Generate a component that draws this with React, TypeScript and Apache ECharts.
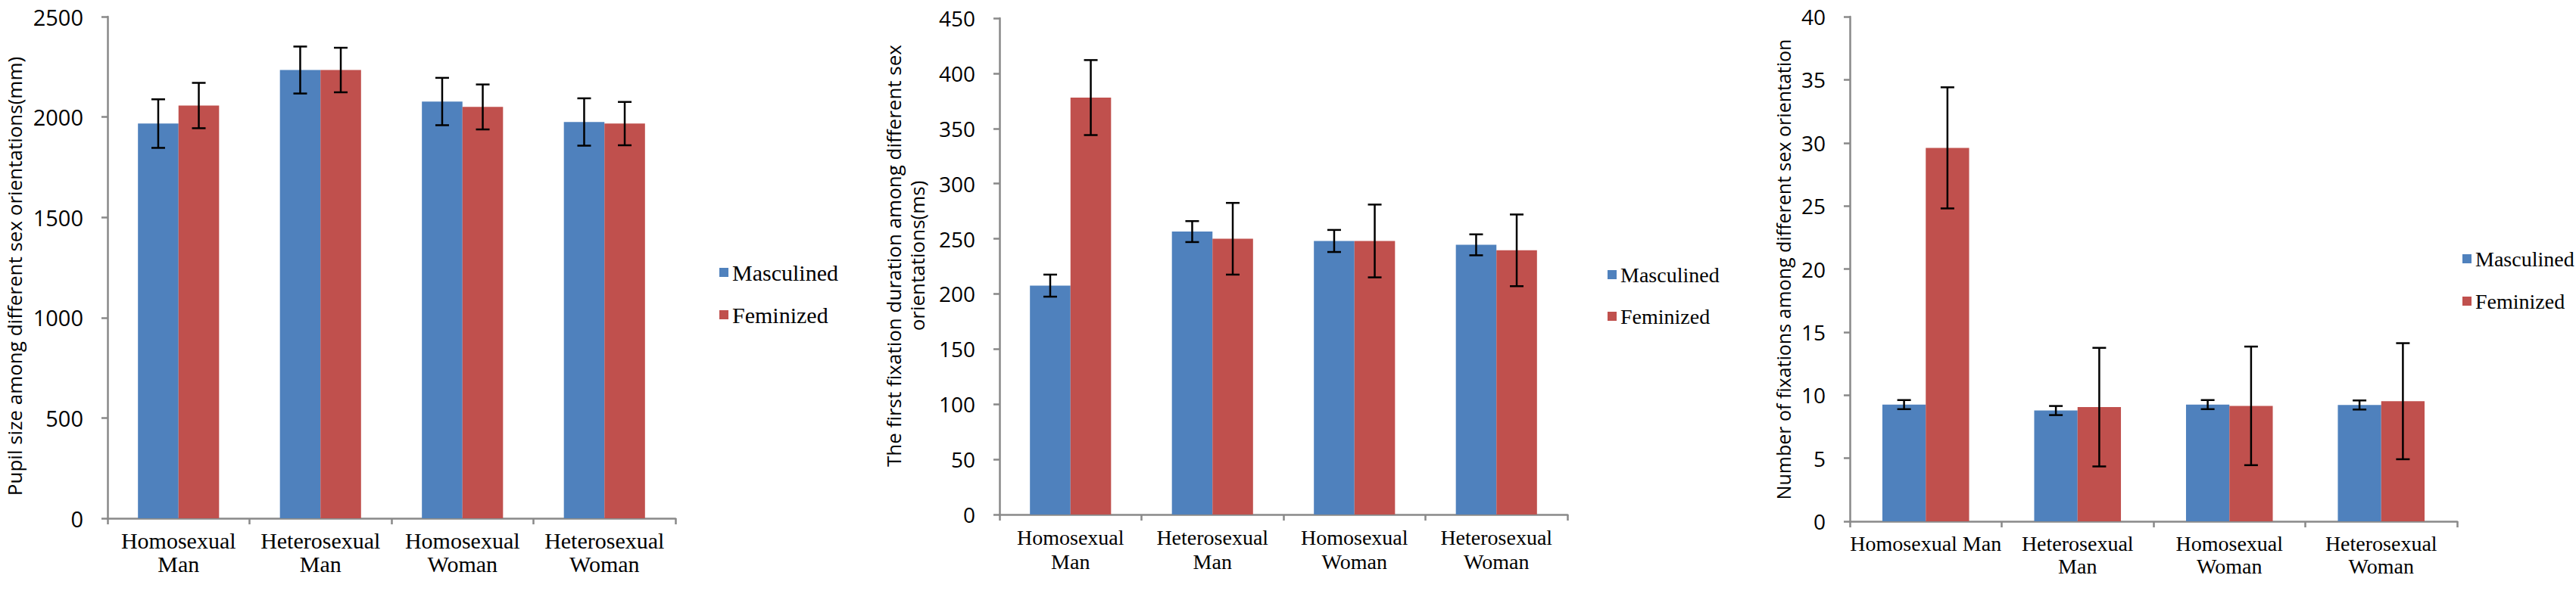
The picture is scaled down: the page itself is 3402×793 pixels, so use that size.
import React, { useEffect, useRef } from "react";
import * as echarts from "echarts";

const catsA = ["Homosexual\nMan", "Heterosexual\nMan", "Homosexual\nWoman", "Heterosexual\nWoman"];
const catsC = ["Homosexual Man", "Heterosexual\nMan", "Homosexual\nWoman", "Heterosexual\nWoman"];
const seriesNames = ["Masculined", "Feminized"];

const pupilMasc = [1967, 2234, 2077, 1975];
const pupilMascErr = [121, 117, 118, 118];
const pupilFem = [2057, 2234, 2050, 1967];
const pupilFemErr = [113, 111, 112, 108];

const durMasc = [207.5, 256.5, 248, 244.5];
const durMascErr = [10, 9.5, 10, 9.5];
const durFem = [378, 250, 248, 239.5];
const durFemErr = [34, 32.5, 33, 32.5];

const fixMasc = [9.25, 8.78, 9.25, 9.22];
const fixMascErr = [0.36, 0.36, 0.36, 0.36];
const fixFem = [29.6, 9.05, 9.15, 9.52];
const fixFemErr = [4.8, 4.7, 4.7, 4.6];

const yTitles = [
  "Pupil size among different sex orientations(mm)",
  "The first fixation duration among different sex\norientations(ms)",
  "Number of fixations among different sex orientation",
];
const yMax = [2500, 450, 40];
const yStep = [500, 50, 5];

const BLUE = "#4F81BD";
const RED = "#C0504D";
const AXIS = "#898989";
const GAP = 0.4286;

function errRender(sign: number) {
  return (params: any, api: any) => {
    const idx = api.value(0);
    const lo = api.coord([idx, api.value(1)]);
    const hi = api.coord([idx, api.value(2)]);
    const band = api.size([1, 0])[0];
    const off = (sign * band * (1 - GAP)) / 4;
    const x = hi[0] + off;
    const h = 9;
    const style = { stroke: "#000", lineWidth: 2.5 };
    return {
      type: "group",
      children: [
        { type: "line", shape: { x1: x, y1: hi[1], x2: x, y2: lo[1] }, style },
        { type: "line", shape: { x1: x - h, y1: hi[1], x2: x + h, y2: hi[1] }, style },
        { type: "line", shape: { x1: x - h, y1: lo[1], x2: x + h, y2: lo[1] }, style },
      ],
    };
  };
}

export default function App() {
  const ref = useRef<HTMLDivElement>(null);
  useEffect(() => {
    document.body.style.margin = "0";
    const chart = echarts.init(ref.current!, undefined, { renderer: "svg" });

    const grids = [
      { left: 142, top: 22, width: 750, height: 663 },
      { left: 1320, top: 24, width: 750, height: 656 },
      { left: 2443, top: 22, width: 802, height: 667 },
    ];
    const catSets = [catsA, catsA, catsC];
    const catFont = [30, 28, 28];
    const catLine = [31, 32, 30];
    const tickFont = [29, 28, 28];

    const xAxis = grids.map((_, i) => ({
      type: "category",
      gridIndex: i,
      data: catSets[i],
      boundaryGap: true,
      axisLine: { lineStyle: { color: AXIS, width: 2.5 } },
      axisTick: { show: true, length: 8, lineStyle: { color: AXIS, width: 2.5 } },
      axisLabel: {
        interval: 0,
        margin: 14,
        color: "#000",
        fontFamily: "Liberation Serif",
        fontSize: catFont[i],
        lineHeight: catLine[i],
      },
      splitLine: { show: false },
    }));

    const yAxis = grids.map((_, i) => ({
      type: "value",
      gridIndex: i,
      min: 0,
      max: yMax[i],
      interval: yStep[i],
      axisLine: { show: true, lineStyle: { color: AXIS, width: 2.5 } },
      axisTick: { show: true, length: 8, lineStyle: { color: AXIS, width: 2.5 } },
      axisLabel: {
        margin: 32,
        color: "#000",
        fontFamily: "Open Sans",
        fontSize: tickFont[i],
        formatter: (v: number) => String(v),
      },
      splitLine: { show: false },
    }));

    const sets = [
      [pupilMasc, pupilMascErr, pupilFem, pupilFemErr],
      [durMasc, durMascErr, durFem, durFemErr],
      [fixMasc, fixMascErr, fixFem, fixFemErr],
    ];

    const series: any[] = [];
    sets.forEach((s, i) => {
      const [m, me, f, fe] = s;
      series.push({
        type: "bar",
        name: seriesNames[0],
        xAxisIndex: i,
        yAxisIndex: i,
        data: m,
        barGap: "0%",
        barCategoryGap: "42.86%",
        itemStyle: { color: BLUE },
      });
      series.push({
        type: "bar",
        name: seriesNames[1],
        xAxisIndex: i,
        yAxisIndex: i,
        data: f,
        barGap: "0%",
        barCategoryGap: "42.86%",
        itemStyle: { color: RED },
      });
      series.push({
        type: "custom",
        name: "err-m-" + i,
        xAxisIndex: i,
        yAxisIndex: i,
        z: 10,
        renderItem: errRender(-1),
        data: m.map((v, k) => [k, v - me[k], v + me[k]]),
        encode: { x: 0, y: [1, 2] },
      });
      series.push({
        type: "custom",
        name: "err-f-" + i,
        xAxisIndex: i,
        yAxisIndex: i,
        z: 10,
        renderItem: errRender(1),
        data: f.map((v, k) => [k, v - fe[k], v + fe[k]]),
        encode: { x: 0, y: [1, 2] },
      });
    });

    const legendPos = [
      { left: 945, top: 340, gap: 26, fs: 30 },
      { left: 2118, top: 343, gap: 25, fs: 28 },
      { left: 3247, top: 322, gap: 26, fs: 28 },
    ];
    const legend = legendPos.map((p) => ({
      orient: "vertical",
      left: p.left,
      top: p.top,
      itemWidth: 12,
      itemHeight: 12,
      itemGap: p.gap,
      icon: "rect",
      data: seriesNames,
      textStyle: {
        color: "#000",
        fontFamily: "Liberation Serif",
        fontSize: p.fs,
        lineHeight: 30,
      },
    }));

    const titlePos = [
      { x: 19, y: 365, fs: 26 },
      { x: 1195, y: 338, fs: 26 },
      { x: 2355, y: 356, fs: 25 },
    ];
    const graphic = titlePos.map((p, i) => ({
      type: "text",
      x: p.x,
      y: p.y,
      rotation: Math.PI / 2,
      silent: true,
      style: {
        text: yTitles[i],
        align: "center",
        verticalAlign: "middle",
        fill: "#000",
        fontFamily: "Open Sans",
        fontSize: p.fs,
        lineHeight: 31,
      },
    }));

    chart.setOption({
      animation: false,
      backgroundColor: "#fff",
      grid: grids,
      xAxis,
      yAxis,
      legend,
      series,
      graphic,
    });
    return () => chart.dispose();
  }, []);
  return <div ref={ref} style={{ width: 3402, height: 793 }} />;
}
